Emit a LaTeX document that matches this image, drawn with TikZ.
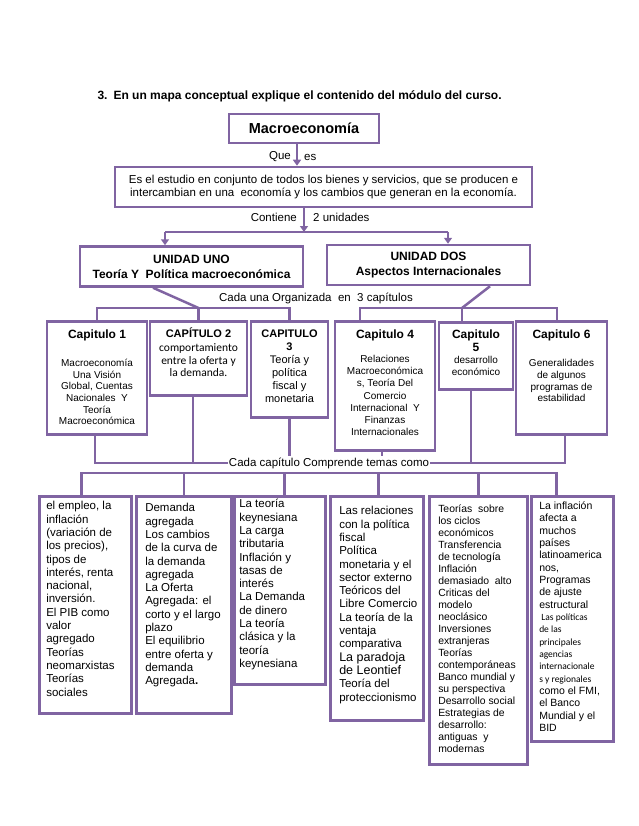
\documentclass[tikz,border=0pt]{standalone}
\usepackage{fontspec}
\setmainfont{Liberation Sans}
\newfontfamily\calibri{Carlito}
\usetikzlibrary{arrows.meta}
\definecolor{morado}{RGB}{128,100,162}
\setlength{\parskip}{0pt}
\newcommand{\caja}[3]{\parbox[c][#2][t]{#1}{#3}}
\newcommand{\ftema}{\fontsize{11.5}{13.3}\selectfont}
\newcommand{\ftit}{\fontsize{12}{14}\selectfont\bfseries}
\tikzset{
  caja/.style={draw=morado, line width=2.5pt, fill=white, inner sep=0pt},
  tema/.style={caja, anchor=north west},
  capitulo/.style={caja, anchor=north},
  linea/.style={draw=morado, line width=2.5pt},
  flecha/.style={linea, -{Triangle[length=6pt, width=8pt]}},
  etiqueta/.style={font=\fontsize{11.5}{13}\selectfont, inner sep=1pt}
}
\begin{document}
\begin{tikzpicture}[x=1pt, y=-1pt]
\useasboundingbox (0,0) rectangle (638,826);

\node[anchor=west, font=\fontsize{12}{14}\selectfont\bfseries] (titulo) at (94,96)
  {3.\hspace{6pt}En un mapa conceptual explique el contenido del módulo del curso.};

% macroeconomia y definicion
\node[caja, minimum width=150, minimum height=29, font=\fontsize{14.5}{16}\selectfont\bfseries] (macro) at (304,128.5) {Macroeconomía};
\node[caja, minimum width=417, minimum height=40, align=center, font=\fontsize{11.5}{13.5}\selectfont] (def) at (323.5,187)
  {Es el estudio en conjunto de todos los bienes y servicios, que se producen e\\intercambian en una\ \ economía y los cambios que generan en la economía.};
\draw[flecha] ([xshift=-7]macro.south) -- ([xshift=-7]macro.south |- def.north);
\node[etiqueta, anchor=east] (que) at (292,157) {Que};
\node[etiqueta, anchor=west] (es) at (303,157) {es};

% unidades
\node[caja, minimum width=223, minimum height=40, align=center, font=\fontsize{12}{15}\selectfont\bfseries] (u1) at (191.5,266.5)
  {UNIDAD UNO\\Teoría Y\ \ Política macroeconómica};
\node[caja, minimum width=203, minimum height=40, align=center, font=\fontsize{12}{15}\selectfont\bfseries] (u2) at (428.5,265)
  {UNIDAD DOS\\Aspectos Internacionales};
\coordinate (reparto) at (304,232);
\coordinate (ri) at (165,232);
\coordinate (rd) at (448,232);
\draw[flecha] (def.south -| reparto) -- (reparto);
\draw[linea] (ri) -- (rd);
\draw[flecha] (ri) -- (u1.north -| ri);
\draw[flecha] (rd) -- (u2.north -| rd);
\node[etiqueta, anchor=east] (contiene) at (298,217) {Contiene};
\node[etiqueta, anchor=west] (dos) at (312,217) {2 unidades};

% capitulos
\node[etiqueta] (organizada) at (316,298) {Cada una Organizada\ \ en\ \ 3 capítulos};
\node[capitulo] (c1) at (97,320) {\caja{100pt}{113pt}{\centering\vspace*{7.5pt}{\ftit\strut Capitulo 1\par}\vspace{16.6pt}%
  {\fontsize{10}{11.6}\selectfont Macroeconomía\\Una Visión\\Global, Cuentas\\Nacionales\ \ Y\\Teoría\\Macroeconómica\par}}};
\node[capitulo] (c2) at (198.5,320) {\caja{97pt}{74pt}{\centering\vspace*{6.8pt}{\fontsize{11}{13}\selectfont\bfseries\strut CAPÍTULO 2\par}\vspace{1.4pt}%
  {\calibri\fontsize{11.5}{12.5}\selectfont comportamiento\\entre la oferta y\\la demanda.\par}}};
\node[capitulo] (c3) at (289.5,320) {\caja{77pt}{96pt}{\centering\vspace*{6.8pt}{\fontsize{11}{13}\selectfont\strut\textbf{CAPITULO}\\\textbf{3}\\Teoría y\\política\\fiscal y\\monetaria\par}}};
\node[capitulo] (c4) at (385,320) {\caja{100pt}{129pt}{\centering\vspace*{7.5pt}{\ftit\strut Capitulo 4\par}\vspace{12.1pt}%
  {\fontsize{10}{12.1}\selectfont Relaciones\\Macroeconómica\\s, Teoría Del\\Comercio\\Internacional\ \ Y\\Finanzas\\Internacionales\par}}};
\node[capitulo] (c5) at (476,321) {\caja{74pt}{67pt}{\centering\vspace*{7.2pt}{\fontsize{12}{13}\selectfont\bfseries\strut Capitulo\\5\par}%
  {\fontsize{10}{12}\selectfont desarrollo\\económico\par}}};
\node[capitulo] (c6) at (561.5,320) {\caja{91pt}{113pt}{\centering\vspace*{7.5pt}{\ftit\strut Capitulo 6\par}\vspace{16.5pt}%
  {\fontsize{10}{11.7}\selectfont Generalidades\\de algunos\\programas de\\estabilidad\par}}};

\coordinate (h1) at (0,308);
\draw[linea] ([xshift=-38.5]u1.south) -- (c2.north |- h1);
\draw[linea] (c1.north) -- (c1.north |- h1) -- (c3.north |- h1) -- (c3.north);
\draw[linea] (c2.north |- h1) -- (c2.north);
\draw[linea] ([xshift=61.5]u2.south) -- ([xshift=-14]c5.north |- h1);
\draw[linea] ([xshift=-25]c4.north) -- ([xshift=-25]c4.north |- h1) -- ([xshift=-4.5]c6.north |- h1) -- ([xshift=-4.5]c6.north);
\draw[linea] ([xshift=-14]c5.north |- h1) -- ([xshift=-14]c5.north);

% temas
\node[etiqueta] (comprende) at (329,463) {Cada capítulo Comprende temas como};
\coordinate (h2) at (0,463);
\draw[linea] ([xshift=-2]c1.south) -- ([xshift=-2]c1.south |- h2) -- (comprende.west);
\draw[linea] ([xshift=-5.5]c2.south) -- ([xshift=-5.5]c2.south |- h2);
\draw[linea] (c3.south) -- (c3.south |- comprende.north);
\draw[linea] ([xshift=-3]c4.south) -- ([xshift=-3]c4.south |- comprende.north);
\draw[linea] (comprende.east) -- ([xshift=3.5]c6.south |- h2) -- ([xshift=3.5]c6.south);
\draw[linea] ([xshift=-5]c5.south) -- ([xshift=-5]c5.south |- h2);

\node[tema] (t1) at (38,495) {\caja{92pt}{217pt}{\raggedright\leftskip=7pt\vspace*{4.3pt}\ftema\strut
  el empleo, la\\inflación\\(variación de\\los precios),\\tipos de\\interés, renta\\nacional,\\inversión.\\El PIB como\\valor\\agregado\\Teorías\\neomarxistas\\Teorías\\sociales\par}};
\node[tema] (t2) at (135,495) {\caja{95pt}{217pt}{\raggedright\leftskip=9pt\vspace*{6.3pt}\ftema\strut
  Demanda\\agregada\\Los cambios\\de la curva de\\la demanda\\agregada\\La Oferta\\Agregada: el\\corto y el largo\\plazo\\El equilibrio\\entre oferta y\\demanda\\Agregada\textbf{.}\par}};
\node[tema] (t3) at (233,495) {\caja{91pt}{188pt}{\raggedright\leftskip=5pt\vspace*{2.3pt}\ftema\strut
  La teoría\\keynesiana\\La carga\\tributaria\\Inflación y\\tasas de\\interés\\La Demanda\\de dinero\\La teoría\\clásica y la\\teoría\\keynesiana\par}};
\node[tema] (t4) at (329,495) {\caja{93pt}{224pt}{\raggedright\leftskip=9pt\vspace*{9.3pt}\ftema\strut
  Las relaciones\\con la política\\fiscal\\Política\\monetaria y el\\sector externo\\Teóricos del\\Libre Comercio\\La teoría de la\\ventaja\\comparativa\\{\fontsize{12.5}{13.3}\selectfont La paradoja}\\{\fontsize{12.5}{13.3}\selectfont de Leontief}\\Teoría del\\proteccionismo\par}};
\node[tema] (t5) at (428,495) {\caja{98pt}{268pt}{\raggedright\leftskip=9pt\vspace*{7.8pt}\fontsize{10.4}{12}\selectfont\strut
  Teorías\ \ sobre\\los ciclos\\económicos\\Transferencia\\de tecnología\\Inflación\\demasiado\ \ alto\\Criticas del\\modelo\\neoclásico\\Inversiones\\extranjeras\\Teorías\\contemporáneas\\Banco mundial y\\su perspectiva\\Desarrollo social\\Estrategias de\\desarrollo:\\antiguas\ \ y\\modernas\par}};
\node[tema] (t6) at (530,495) {\caja{82pt}{245pt}{\raggedright\leftskip=8pt\vspace*{4.7pt}\fontsize{10.5}{12.33}\selectfont\strut
  La inflación\\afecta a\\muchos\\países\\latinoamerica\\nos,\\Programas\\de ajuste\\estructural\\{\calibri\fontsize{9.5}{12.33}\selectfont\ Las políticas\\de las\\principales\\agencias\\internacionale\\s y regionales}\\como el FMI,\\el Banco\\Mundial y el\\BID\par}};

\coordinate (h3) at (0,473);
\draw[linea] ([xshift=-4]t1.north) -- ([xshift=-4]t1.north |- h3) -- ([xshift=-16]t6.north |- h3) -- ([xshift=-16]t6.north);
\foreach \t/\d in {t2/0,t3/4.5,t4/1.5,t5/0}
  \draw[linea] ([xshift=\d]\t.north) -- ([xshift=\d]\t.north |- h3);
\end{tikzpicture}
\end{document}
